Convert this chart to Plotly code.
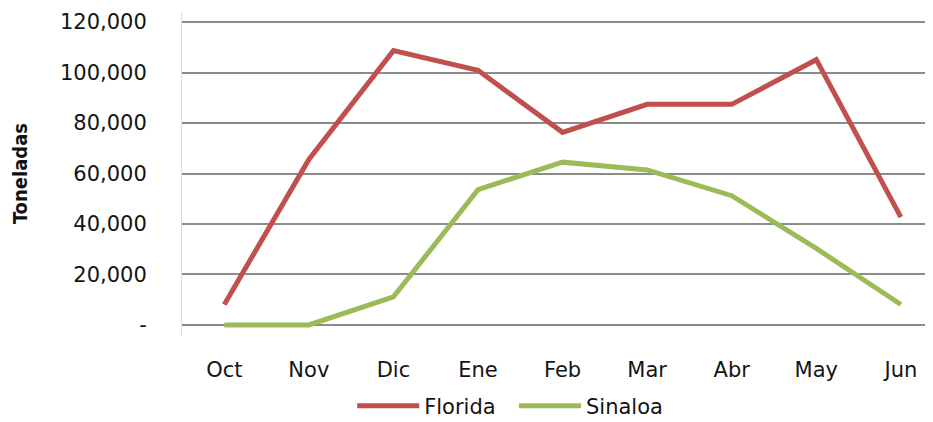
import plotly.graph_objects as go

meses = ["Oct", "Nov", "Dic", "Ene", "Feb", "Mar", "Abr", "May", "Jun"]
florida = [8100, 65600, 108700, 100900, 76300, 87400, 87400, 105100, 42700]
sinaloa = [0, 0, 11100, 53600, 64500, 61400, 51200, 30300, 8100]

y_ticks = [0, 20000, 40000, 60000, 80000, 100000, 120000]
y_labels = ["-", "20,000", "40,000", "60,000", "80,000", "100,000", "120,000"]

FONT = "DejaVu Sans"

fig = go.Figure()
fig.add_trace(go.Scatter(x=meses, y=florida, name="Florida  ", mode="lines",
                         line=dict(color="#C0504D", width=5)))
fig.add_trace(go.Scatter(x=meses, y=sinaloa, name="Sinaloa", mode="lines",
                         line=dict(color="#9BBB59", width=5)))

# page body has an 8px margin, so everything is shifted by 8px
fig.update_layout(
    width=933, height=422,
    margin=dict(l=174, r=8, t=4, b=89),
    paper_bgcolor="white", plot_bgcolor="white",
    font=dict(family=FONT, size=21, color="#141414"),
    legend=dict(orientation="h", x=0.437, xanchor="center", y=-0.22, yanchor="middle",
                font=dict(size=21), itemwidth=62),
    showlegend=True,
)
fig.update_xaxes(type="category", range=[-0.5, 8.38], showgrid=False, zeroline=False,
                 showline=False, ticks="", ticklabelstandoff=20, automargin=False)
fig.update_yaxes(range=[-4000, 124000], tickvals=y_ticks, ticktext=y_labels,
                 showgrid=True, gridcolor="#8c8c8c", gridwidth=1.5,
                 zeroline=False, showline=True, linecolor="#d9d9d9", linewidth=1,
                 ticks="", ticklabelstandoff=30, automargin=False,
                 title=dict(text="<b>Toneladas</b>", standoff=26,
                            font=dict(family="DejaVu Sans Condensed", size=20, color="#111")))

fig.write_html("out.html")
